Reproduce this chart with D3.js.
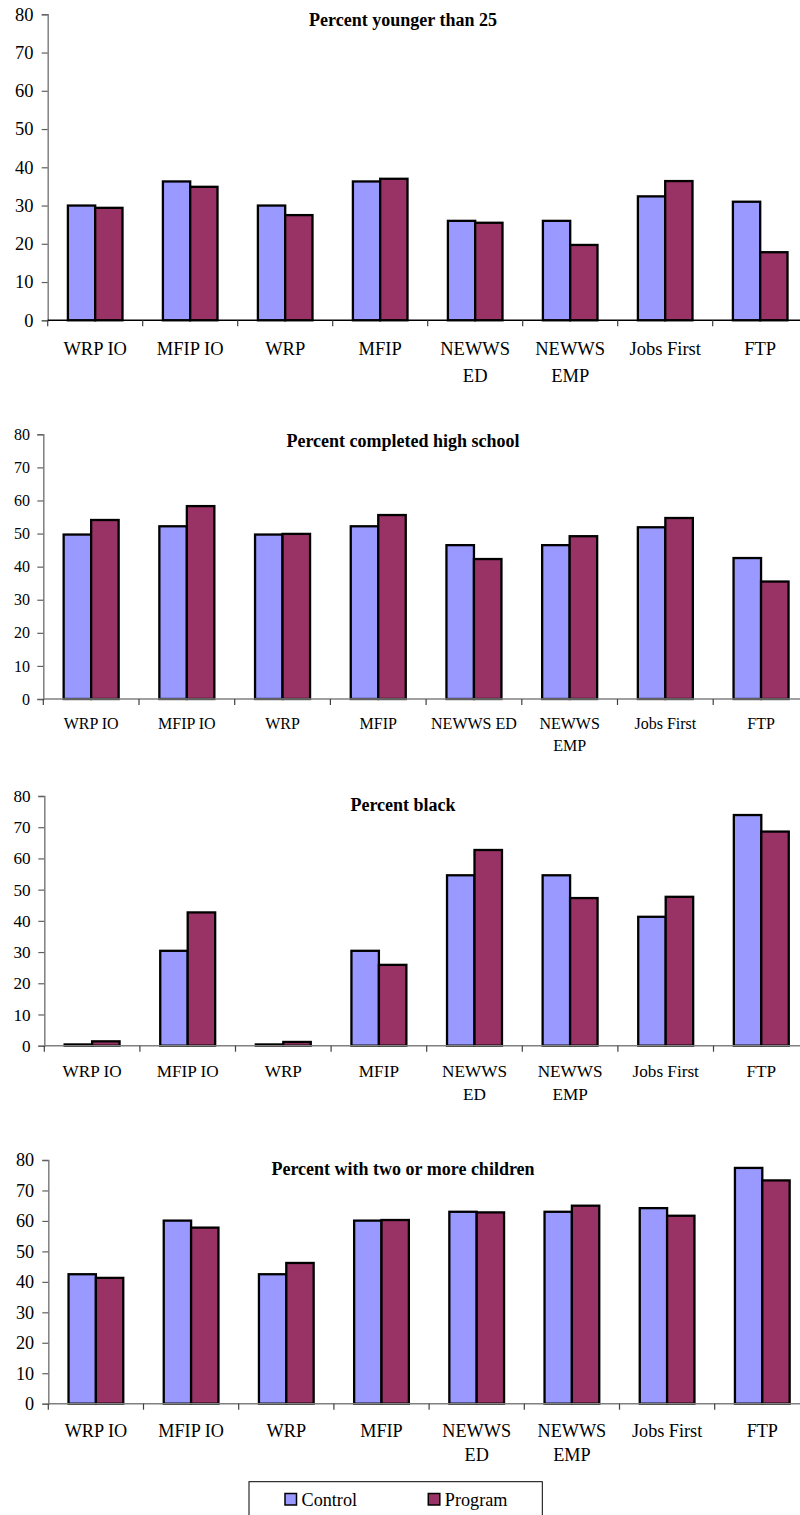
<!DOCTYPE html>
<html>
<head>
<meta charset="utf-8">
<script src="https://cdn.jsdelivr.net/npm/d3@7"></script>
<style>
  html, body { margin: 0; padding: 0; background: #fff; }
  svg { display: block; }
  svg text { font-family: "Liberation Serif", "Times New Roman", Times, serif; }
</style>
</head>
<body>
<svg id="chart" width="800" height="1515"></svg>
<script>
// Program sites compared in every panel
const categories = ["WRP IO", "MFIP IO", "WRP", "MFIP", "NEWWS ED", "NEWWS EMP", "Jobs First", "FTP"];
const seriesNames = ["Control", "Program"];
const yTicks = [0, 10, 20, 30, 40, 50, 60, 70, 80];

const titles = [
  "Percent younger than 25",
  "Percent completed high school",
  "Percent black",
  "Percent with two or more children"
];

const youngerControl = [30.0, 36.3, 30.0, 36.3, 26.0, 26.0, 32.4, 31.0];
const youngerProgram = [29.4, 34.9, 27.5, 37.0, 25.5, 19.7, 36.4, 17.8];

const highSchoolControl = [49.7, 52.2, 49.7, 52.2, 46.5, 46.5, 51.9, 42.6];
const highSchoolProgram = [54.1, 58.3, 49.9, 55.6, 42.3, 49.2, 54.7, 35.5];

const blackControl = [0.4, 30.4, 0.4, 30.4, 54.6, 54.6, 41.3, 73.9];
const blackProgram = [1.4, 42.7, 1.2, 25.9, 62.7, 47.3, 47.7, 68.6];

const childrenControl = [42.5, 60.1, 42.5, 60.1, 63.0, 63.0, 64.2, 77.4];
const childrenProgram = [41.3, 57.8, 46.2, 60.3, 62.8, 65.0, 61.7, 73.3];

const seriesValues = [
  [youngerControl, youngerProgram],
  [highSchoolControl, highSchoolProgram],
  [blackControl, blackProgram],
  [childrenControl, childrenProgram]
];

const colors = { Control: "#9999FF", Program: "#993366" };
const serif = "'Liberation Serif', 'Times New Roman', Times, serif";

// Placement of each panel on the page
const layouts = [
  { x0: 47.7, step: 95.0, yTop: 14.3,  yZero: 320.3,  font: 18.5, labelY: 355,  lineGap: 26.7, titleY: 25.5, xAxisColor: "#000" },
  { x0: 43.3, step: 95.7, yTop: 434.3, yZero: 699.0,  font: 16.0, labelY: 729,  lineGap: 22.0, titleY: 447,  xAxisColor: "#808080" },
  { x0: 44.3, step: 95.6, yTop: 796.0, yZero: 1045.7, font: 17.2, labelY: 1077, lineGap: 23.0, titleY: 811,  xAxisColor: "#808080" },
  { x0: 48.3, step: 95.2, yTop: 1160,  yZero: 1403.7, font: 18.2, labelY: 1437, lineGap: 23.5, titleY: 1174.5, xAxisColor: "#808080" }
];

const svg = d3.select("#chart");

// Measure text for label wrapping
const measurer = svg.append("text").attr("visibility", "hidden").style("font-family", serif);
function textWidth(str, size) {
  measurer.attr("font-size", size).text(str);
  return measurer.node().getComputedTextLength();
}

function wrapLabel(label, size, maxWidth) {
  if (textWidth(label, size) <= maxWidth) return [label];
  return label.split(" ");
}

layouts.forEach((L, i) => {
  const g = svg.append("g");
  const x = d3.scaleBand()
    .domain(categories)
    .range([L.x0, L.x0 + L.step * categories.length]);
  const sub = d3.scaleBand()
    .domain(seriesNames)
    .range([0, x.bandwidth()])
    .paddingOuter(0.74);
  const y = d3.scaleLinear().domain([0, 80]).range([L.yZero, L.yTop]);

  // Y axis
  const yAxis = g.append("g")
    .attr("transform", `translate(${L.x0},0)`)
    .call(d3.axisLeft(y).tickValues(yTicks).tickSize(6).tickPadding(L.font * 0.45));
  yAxis.attr("font-family", null).attr("font-size", null);
  yAxis.select(".domain").attr("stroke", "#808080").attr("stroke-width", 1.5);
  yAxis.selectAll(".tick line").attr("stroke", "#606060").attr("stroke-width", 1.2);
  yAxis.selectAll(".tick text")
    .attr("font-size", L.font)
    .style("font-family", serif)
    .attr("fill", "#000");

  // Bars
  const rows = categories.map((c, k) => ({
    cat: c,
    vals: seriesNames.map((s, j) => ({ series: s, value: seriesValues[i][j][k] }))
  }));
  g.append("g").selectAll("g")
    .data(rows)
    .join("g")
    .attr("transform", d => `translate(${x(d.cat)},0)`)
    .selectAll("rect")
    .data(d => d.vals)
    .join("rect")
    .attr("x", d => sub(d.series))
    .attr("width", sub.bandwidth())
    .attr("y", d => y(d.value))
    .attr("height", d => y(0) - y(d.value))
    .attr("fill", d => colors[d.series])
    .attr("stroke", "#000")
    .attr("stroke-width", 2.3);

  // X axis line with boundary ticks between categories
  const xEnd = L.x0 + L.step * categories.length;
  g.append("line")
    .attr("x1", L.x0).attr("x2", xEnd)
    .attr("y1", L.yZero).attr("y2", L.yZero)
    .attr("stroke", L.xAxisColor).attr("stroke-width", 1.5);
  const bounds = categories.map(c => x(c));
  g.append("g").selectAll("line")
    .data(bounds)
    .join("line")
    .attr("x1", d => d).attr("x2", d => d)
    .attr("y1", L.yZero).attr("y2", L.yZero + 6)
    .attr("stroke", "#404040").attr("stroke-width", 1.2);

  // Category labels
  const labels = g.append("g").selectAll("text")
    .data(categories)
    .join("text")
    .attr("x", d => x(d) + x.bandwidth() / 2)
    .attr("y", L.labelY)
    .attr("text-anchor", "middle")
    .attr("font-size", L.font)
    .style("font-family", serif)
    .attr("fill", "#000");
  labels.each(function (d) {
    const lines = wrapLabel(d, L.font, L.step - 6);
    d3.select(this).selectAll("tspan")
      .data(lines)
      .join("tspan")
      .attr("x", x(d) + x.bandwidth() / 2)
      .attr("dy", (t, n) => n === 0 ? 0 : L.lineGap)
      .text(t => t);
  });

  // Panel title
  g.append("text")
    .attr("x", 403)
    .attr("y", L.titleY)
    .attr("text-anchor", "middle")
    .attr("font-size", 18)
    .attr("font-weight", "bold")
    .style("font-family", serif)
    .attr("fill", "#000")
    .text(titles[i]);
});

measurer.remove();

// Legend
const legend = svg.append("g");
legend.append("rect")
  .attr("x", 249).attr("y", 1481.7)
  .attr("width", 293.3).attr("height", 50)
  .attr("fill", "#fff").attr("stroke", "#000").attr("stroke-width", 1);
const legendX = [285, 428.3];
seriesNames.forEach((s, j) => {
  legend.append("rect")
    .attr("x", legendX[j]).attr("y", 1493.5)
    .attr("width", 11.5).attr("height", 11.5)
    .attr("fill", colors[s]).attr("stroke", "#000").attr("stroke-width", 1.5);
  legend.append("text")
    .attr("x", legendX[j] + 16.5).attr("y", 1506)
    .attr("font-size", 18.2)
    .style("font-family", serif)
    .attr("fill", "#000")
    .text(s);
});
</script>
</body>
</html>
